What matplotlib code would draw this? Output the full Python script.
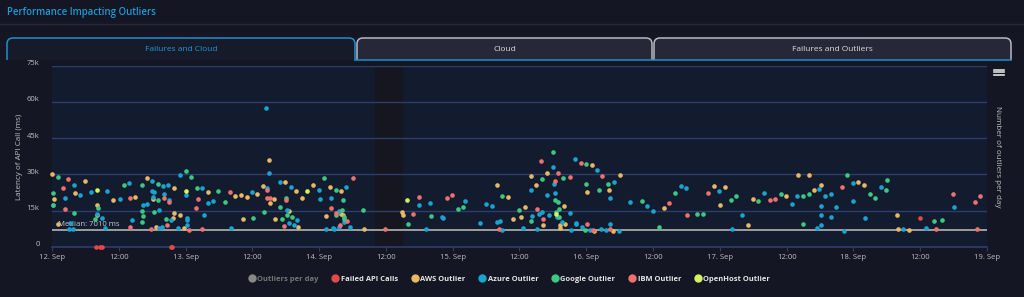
import numpy as np
import pandas as pd
import matplotlib
matplotlib.use('Agg')
import matplotlib.pyplot as plt
import matplotlib.transforms as mtransforms
from matplotlib.path import Path
from matplotlib.patches import PathPatch
from matplotlib.lines import Line2D

plt.rcParams['font.family'] = ['Open Sans', 'DejaVu Sans']

# Hours after 12 Sep 00:00 and latency in thousands of ms
aws_h = [0.0, 0.4, 1.1, 4.2, 5.9, 8.0, 8.1, 11.0, 15.0, 17.0, 18.2, 18.7, 21.7, 21.9, 22.0, 23.0, 23.7,
         28.0, 32.9, 33.9, 34.3, 35.0, 36.9, 37.9, 39.0, 39.1, 39.9, 40.1, 41.9, 42.5, 43.9, 44.2,
         44.9, 46.9, 49.2, 50.0, 51.9, 51.9, 52.3, 56.0, 62.9, 63.1, 79.9, 82.0, 82.9, 84.2, 84.9,
         86.0, 86.9, 88.3, 88.9, 91.2, 91.3, 92.0, 92.1, 96.1, 97.0, 97.3, 100.0, 100.8, 102.0,
         109.9, 118.9, 120.0, 121.0, 125.0, 125.9, 131.9, 134.0, 136.0, 137.0, 138.1, 144.9, 145.9,
         151.9, 152.0, 154.0]
aws_v = [30.2, 19.9, 9.5, 22.5, 27.3, 17.4, 13.1, 19.3, 20.6, 28.7, 19.9, 8.1, 12.1, 24.3, 14.2, 13.1, 7.9,
         22.6, 21.1, 21.5, 11.6, 20.6, 22.1, 25.2, 35.9, 18.3, 20.0, 11.4, 26.8, 15.0, 23.2, 8.3,
         20.1, 25.5, 12.8, 25.0, 23.3, 13.5, 13.4, 7.6, 14.3, 13.4, 25.8, 20.8, 11.4, 12.6, 16.6,
         29.2, 25.8, 9.2, 30.6, 9.0, 8.0, 17.0, 9.4, 22.8, 33.9, 6.6, 23.4, 6.6, 29.8,
         16.1, 25.2, 17.5, 24.8, 9.1, 19.7, 21.1, 29.8, 29.8, 23.6, 25.5, 27.0, 25.5,
         13.1, 7.6, 6.9]

azure_h = [0.1, 2.3, 3.2, 3.1, 3.8, 4.0, 5.0, 7.0, 8.1, 8.9, 9.6, 9.9, 12.2, 13.9, 14.3, 16.4, 17.1,
           18.0, 18.0, 18.3, 18.1, 19.2, 19.3, 19.8, 20.0, 20.1, 20.9, 21.1, 21.4, 22.7, 23.0, 24.1,
           24.2, 24.3, 24.3, 27.0, 27.4, 28.1, 28.9, 32.1, 35.9, 38.4, 38.6, 39.0, 40.9, 42.3, 42.6,
           43.0, 43.4, 44.1, 48.0, 48.1, 49.3, 50.2, 50.5, 50.7, 51.5, 51.6, 52.4, 52.9, 53.5, 66.0,
           67.2, 67.9, 70.0, 70.2, 74.2, 76.9, 78.0, 79.0, 80.0, 80.5, 80.8, 84.7, 86.0, 86.2, 87.2,
           87.5, 88.1, 89.0, 89.3, 90.0, 90.2, 90.3, 90.8, 91.7, 93.0, 93.3, 93.9, 94.2, 94.2, 95.2,
           96.6, 98.0, 98.7, 99.6, 100.2, 100.2, 100.9, 101.8, 103.9, 106.9, 107.9, 113.0, 113.9,
           119.9, 122.1, 123.9, 127.9, 133.0, 133.9, 137.5, 137.9, 138.1, 138.1, 138.2, 138.9, 139.9,
           140.0, 140.9, 142.3, 143.9, 144.0, 146.1, 149.0, 152.9, 157.1, 162.0]
azure_v = [17.4, 20.3, 10.1, 7.3, 7.3, 25.5, 21.7, 22.6, 13.8, 12.1, 8.0, 23.0, 19.9, 26.3, 11.2, 17.4, 17.7,
           27.4, 23.0, 22.8, 20.8, 7.7, 15.4, 8.3, 25.1, 21.9, 25.8, 19.6, 11.3, 8.0, 29.9, 21.5,
           11.9, 11.0, 9.2, 24.6, 13.1, 18.1, 19.0, 7.7, 22.6, 57.5, 24.6, 30.8, 27.0, 15.3, 9.8,
           25.0, 9.0, 11.0, 23.7, 19.9, 7.4, 20.1, 7.9, 7.6, 8.4, 15.0, 10.2, 24.8, 8.4, 17.5,
           7.3, 18.1, 12.4, 12.1, 19.0, 9.9, 17.7, 16.8, 10.3, 10.9, 7.2, 7.7, 23.7, 13.0, 7.4,
           13.7, 14.3, 21.7, 13.1, 33.2, 25.9, 22.3, 12.3, 10.5, 13.9, 6.9, 36.4, 10.1, 9.4, 8.4,
           6.9, 32.0, 7.4, 6.9, 20.3, 9.7, 26.8, 6.8, 18.6, 17.1, 14.9, 25.2, 24.3,
           23.3, 7.4, 13.1, 22.3, 17.8, 21.1, 7.9, 23.9, 16.8, 13.4, 9.1, 21.1, 22.1,
           12.6, 16.6, 6.6, 19.0, 26.5, 11.9, 25.0, 7.6, 7.9, 16.6]

google_h = [0.1, 0.2, 1.0, 4.0, 7.8, 8.2, 13.0, 16.1, 16.1, 16.1, 16.3, 18.3, 19.0, 19.0, 20.4, 24.0,
            24.9, 26.0, 29.9, 31.0, 36.2, 38.1, 41.0, 41.3, 42.1, 42.3, 43.2, 48.9, 51.0, 51.1, 52.2,
            52.1, 52.5, 52.5, 55.9, 64.0, 68.1, 72.9, 73.9, 80.9, 83.9, 86.0, 88.0, 90.0, 90.4, 90.6,
            91.0, 91.1, 91.1, 91.8, 95.9, 96.0, 95.8, 98.2, 99.9, 106.0, 109.0, 111.9, 115.9, 117.0,
            122.0, 122.9, 126.9, 130.9, 135.0, 135.0, 136.0, 142.9, 146.9, 147.9, 149.9, 150.1, 158.4,
            159.9]
google_v = [22.2, 17.5, 29.1, 14.2, 11.6, 16.0, 25.5, 10.3, 25.8, 14.9, 12.7, 14.6, 19.3, 26.2, 11.7, 31.3,
            29.1, 24.3, 23.0, 18.6, 12.1, 14.5, 16.7, 11.6, 20.1, 13.2, 12.3, 28.6, 23.7, 13.1, 19.4,
            15.4, 12.3, 11.6, 15.2, 9.4, 12.8, 15.6, 16.6, 21.1, 15.3, 10.9, 28.3, 39.4, 19.3, 14.5,
            18.8, 15.6, 12.3, 28.6, 34.2, 26.2, 7.2, 23.4, 26.1, 19.0, 8.1, 22.3, 13.5, 13.8,
            19.6, 21.0, 19.0, 21.8, 9.7, 21.1, 21.8, 29.8, 21.8, 20.3, 23.7, 27.6, 10.9,
            11.2]

ibm_h = [1.9, 2.3, 2.9, 14.0, 14.1, 17.7, 20.1, 20.7, 21.1, 24.6, 25.8, 26.2, 27.0, 31.9, 38.7, 38.6,
         39.2, 41.6, 42.0, 50.1, 51.1, 51.7, 53.0, 54.0, 59.9, 64.9, 66.0, 70.9, 71.9, 80.4, 87.1,
         87.9, 88.3, 90.4, 90.9, 93.0, 95.0, 96.2, 97.2, 98.9, 100.3, 110.9, 114.1, 117.9, 129.0,
         129.9, 141.9, 158.8, 161.9, 165.8, 166.2, 166.8]
ibm_v = [24.6, 15.6, 28.1, 20.3, 8.3, 7.6, 20.3, 9.0, 18.6, 7.2, 16.0, 19.9, 7.4, 22.9, 23.6, 20.1,
         20.4, 8.8, 19.6, 16.3, 14.1, 9.2, 10.9, 28.6, 7.4, 13.5, 20.6, 20.3, 21.5, 7.6, 15.9,
         35.4, 11.4, 27.4, 30.8, 29.0, 34.9, 9.7, 7.2, 29.2, 7.6, 18.1, 13.1, 22.3, 19.4,
         19.7, 25.0, 7.4, 21.8, 18.6, 7.4, 21.1]

failed_h = [7.9, 8.7, 9.0, 21.3, 21.5, 155.9]
failed_v = [0, 0, 0, 0, 0, 11.9]

openhost_h = [8.1, 24.1, 45.9, 63.8, 90.6]
openhost_v = [23.6, 23.2, 23.2, 19.6, 13.8]

median_ms = 7010
band_start, band_end = 58.1, 62.9  # darker band on 14 Sep
tabs = ['Failures and Cloud', 'Cloud', 'Failures and Outliers']
legend_labels = ['Outliers per day', 'Failed API Calls', 'AWS Outlier', 'Azure Outlier',
                 'Google Outlier', 'IBM Outlier', 'OpenHost Outlier']
legend_colors = ['#888888', '#e54848', '#e8b865', '#1aa3d0', '#3cc882', '#f07070', '#d6f25e']

start = pd.Timestamp('2023-09-12')


def to_time(hours):
    return start + pd.to_timedelta(np.array(hours), unit='h')


bg = '#141623'
fig = plt.figure(figsize=(10.24, 2.97), dpi=100, facecolor=bg)
W, H = 1024, 297


def fx(px):
    return px / W


def fy(py):
    return 1 - py / H


# header
fig.text(fx(7), fy(12), 'Performance Impacting Outliers', color='#1e9ad6', fontsize=6.9,
         fontweight='semibold', va='center', ha='left')
fig.add_artist(Line2D([0, 1], [fy(23.5), fy(23.5)], color='#262836', lw=1))


# tabs
def tab_path(x0, x1, y0, y1, r=6):
    verts = [(fx(x0), fy(y1)), (fx(x0), fy(y0 + r)), (fx(x0), fy(y0)), (fx(x0 + r), fy(y0)),
             (fx(x1 - r), fy(y0)), (fx(x1), fy(y0)), (fx(x1), fy(y0 + r)), (fx(x1), fy(y1))]
    codes = [Path.MOVETO, Path.LINETO, Path.CURVE3, Path.CURVE3, Path.LINETO, Path.CURVE3,
             Path.CURVE3, Path.LINETO]
    return Path(verts, codes)


tab_x = [(7, 355), (357, 652), (654, 1011)]
for i, (x0, x1) in enumerate(tab_x):
    active = i == 0
    fig.add_artist(PathPatch(tab_path(x0, x1, 38, 60),
                             facecolor='#171a28' if active else '#262838',
                             edgecolor='#1f8fd0' if active else '#b8b8c0', lw=1.1,
                             transform=fig.transFigure, zorder=-1))
    fig.text(fx((x0 + x1) / 2), fy(49.5), tabs[i], color='#1e9ad6' if active else '#e0e0e0',
             fontsize=6.0, ha='center', va='center')
fig.add_artist(Line2D([fx(355), fx(1011)], [fy(60), fy(60)], color='#1f8fd0', lw=1.1))

# main axes
ax = fig.add_axes([fx(52), fy(247), fx(987) - fx(52), (247 - 65.7) / H])
ax.set_facecolor('#121c2e')
ax.axvspan(to_time([band_start])[0], to_time([band_end])[0], color='#15161f', zorder=0)

for val in [15, 30, 45, 60, 75]:
    ax.axhline(val * 1000, color='#2f3d6c', lw=1, zorder=1)
ax.axhline(0, color='#2f3d6c', lw=1.2, zorder=1, clip_on=False)
ax.axhline(median_ms, color='#a8a8a8', lw=1.3, zorder=2)
ax.text(0.006, median_ms + 700, 'Median: 7010 ms', transform=ax.get_yaxis_transform(),
        color='#c8c8c8', fontsize=5.6, va='bottom', ha='left')

series = [
    (failed_h, failed_v, legend_colors[1]),
    (aws_h, aws_v, legend_colors[2]),
    (azure_h, azure_v, legend_colors[3]),
    (google_h, google_v, legend_colors[4]),
    (ibm_h, ibm_v, legend_colors[5]),
    (openhost_h, openhost_v, legend_colors[6]),
]
for hrs, vals, col in series:
    ax.scatter(to_time(hrs), np.array(vals) * 1000, s=11, color=col, linewidths=0,
               zorder=3, clip_on=False)

ax.set_xlim(start, start + pd.Timedelta(days=7))
ax.set_ylim(0, 75000)
ax.set_yticks([0, 15000, 30000, 45000, 60000, 75000])
ax.set_yticklabels(['0', '15k', '30k', '45k', '60k', '75k'])
ticks = [start + pd.Timedelta(hours=12 * k) for k in range(15)]
ax.set_xticks(ticks)
ax.set_xticklabels([t.strftime('%-d. %b') if t.hour == 0 else '12:00' for t in ticks])
ax.tick_params(axis='y', length=0, pad=9, labelsize=5.5, labelcolor='#c0c0c0')
ax.tick_params(axis='x', length=3, color='#2f3d6c', pad=2, labelsize=5.5, labelcolor='#c0c0c0')
shift = mtransforms.ScaledTranslation(0, 3 / 100, fig.dpi_scale_trans)
for lab in ax.get_yticklabels():
    lab.set_transform(lab.get_transform() + shift)
for s in ax.spines.values():
    s.set_visible(False)

fig.text(fx(20), fy(157), 'Latency of API Call (ms)', rotation=90, color='#c0c0c0',
         fontsize=5.8, ha='center', va='center')
fig.text(fx(998), fy(157), 'Number of outliers per day', rotation=270, color='#c0c0c0',
         fontsize=5.8, ha='center', va='center')

# menu icon
for yy in [69.5, 72, 74.5]:
    fig.add_artist(Line2D([fx(994), fx(1004)], [fy(yy), fy(yy)], color='#e0e0e0', lw=1.2))

# legend
handles = [Line2D([], [], marker='o', linestyle='none', markersize=6, markerfacecolor=c,
                  markeredgewidth=0) for c in legend_colors]
leg = fig.legend(handles, legend_labels, loc='center', bbox_to_anchor=(fx(509), fy(279)),
                 ncol=7, frameon=False, fontsize=5.4, handletextpad=0.25, columnspacing=1.7,
                 handlelength=1.0, borderpad=0)
for i, t in enumerate(leg.get_texts()):
    t.set_fontweight('bold')
    t.set_color('#777777' if i == 0 else '#e6e6e6')

fig.savefig('out.png', dpi=100, facecolor=bg)
